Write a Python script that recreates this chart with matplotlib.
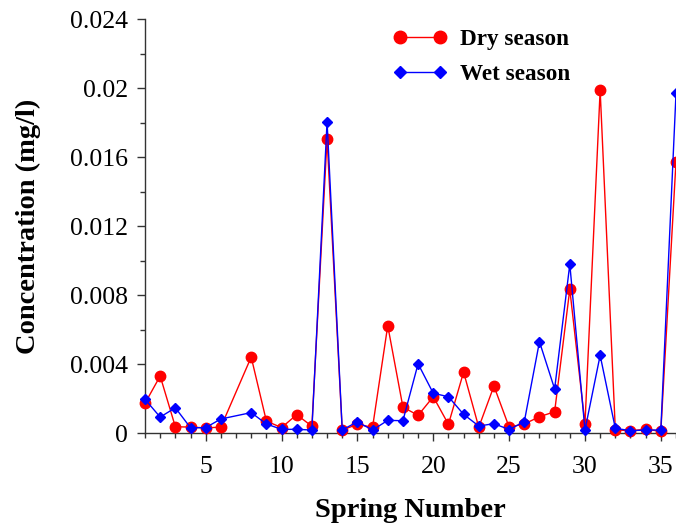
import matplotlib.pyplot as plt
from matplotlib.ticker import MultipleLocator, FixedLocator
from matplotlib.legend_handler import HandlerLine2D

# spring numbers (no sample for spring 7)
springs = [1, 2, 3, 4, 5, 6, 8, 9, 10, 11, 12, 13, 14, 15, 16, 17, 18, 19,
           20, 21, 22, 23, 24, 25, 26, 27, 28, 29, 30, 31, 32, 33, 34, 35, 36]

dry = [0.00174, 0.00332, 0.00038, 0.00036, 0.00031, 0.00036, 0.00442, 0.00071,
       0.00033, 0.00108, 0.00041, 0.01708, 0.00019, 0.00052, 0.00035, 0.00624,
       0.00152, 0.00104, 0.00212, 0.00052, 0.00355, 0.00035, 0.00274, 0.00036,
       0.00054, 0.00096, 0.00125, 0.00835, 0.00054, 0.0199, 0.0002, 0.00015,
       0.00023, 0.00012, 0.01575]

wet = [0.00197, 0.00094, 0.00148, 0.00032, 0.00033, 0.00083, 0.0012, 0.00054,
       0.00023, 0.00023, 0.00019, 0.01806, 0.0002, 0.00066, 0.00019, 0.00075,
       0.00073, 0.00403, 0.00232, 0.00212, 0.0011, 0.00042, 0.00056, 0.00022,
       0.00067, 0.00531, 0.00257, 0.0098, 0.00019, 0.00452, 0.00029, 0.00015,
       0.00019, 0.00019, 0.0197]

y_ticks = [0, 0.004, 0.008, 0.012, 0.016, 0.02, 0.024]
y_labels = ["0", "0.004", "0.008", "0.012", "0.016", "0.02", "0.024"]

plt.rcParams['font.family'] = ['Liberation Serif', 'DejaVu Serif']

fig = plt.figure(figsize=(6.76, 5.23), dpi=100)
ax = fig.add_axes([145 / 676, 89.7 / 523, 531 / 676, 414 / 523])

ax.plot(springs, dry, color='#ff0000', lw=1.0, marker='o', markersize=7.5,
        label='Dry season', clip_on=False, zorder=3)
ax.plot(springs, wet, color='#0000ff', lw=1.0, marker='D', markersize=5,
        label='Wet season', clip_on=False, zorder=4)

ax.set_xlim(1, 36)
ax.set_ylim(0, 0.024)
ax.xaxis.set_major_locator(FixedLocator([5, 10, 15, 20, 25, 30, 35]))
ax.xaxis.set_minor_locator(MultipleLocator(1))
ax.set_yticks(y_ticks)
ax.set_yticklabels(y_labels)
ax.yaxis.set_minor_locator(MultipleLocator(0.002))

ax.tick_params(which='major', direction='out', length=6, width=1,
               labelsize=18.5)
ax.tick_params(axis='x', which='major', pad=10)
ax.tick_params(axis='y', which='major', pad=6)
ax.tick_params(which='minor', direction='out', length=3.5, width=1)
ax.spines['top'].set_visible(False)
ax.spines['right'].set_visible(False)
for s in ('left', 'bottom'):
    ax.spines[s].set_linewidth(1)
    ax.spines[s].set_color('#333333')
ax.tick_params(colors='#333333', which='both', labelcolor='black')

ax.set_xlabel('Spring Number', fontsize=20.5, fontweight='bold', labelpad=15)
ax.set_ylabel('Concentration (mg/l)', fontsize=20.5, fontweight='bold',
              labelpad=21)

ax.legend(loc='upper left', bbox_to_anchor=(400 / 676, 1 - 29 / 523),
          bbox_transform=fig.transFigure, frameon=False, numpoints=2,
          handlelength=1.72, handletextpad=0.85, labelspacing=0.6,
          borderpad=0, borderaxespad=0, markerscale=1.2,
          handler_map={plt.Line2D: HandlerLine2D(marker_pad=0)},
          prop={'size': 16.7, 'weight': 'bold'})

fig.savefig('out.png', dpi=100)
